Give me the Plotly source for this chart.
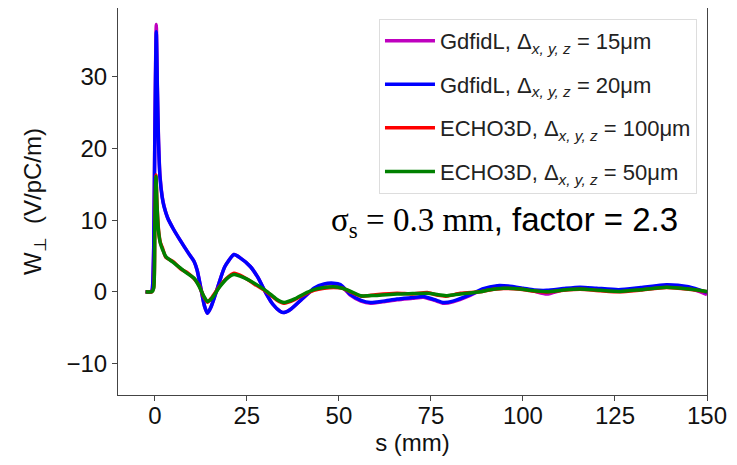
import plotly.graph_objects as go

# GdfidL curves (s in mm, W in V/pC/m)
s_gdfidl = [-2.5, -1.0, -0.7, -0.3, 0.0, 0.4, 0.7, 1.0, 1.4, 2.0, 2.5, 3.5, 5.0, 7.0, 9.0, 10.7,
            11.5, 12.5, 13.5, 14.3, 15.2, 17.0, 19.0, 21.5, 23.0, 26.0, 28.0, 30.0, 32.0, 34.0,
            35.1, 37.0, 40.0, 43.2, 46.0, 48.6, 50.4, 53.2, 56.0, 58.6, 62.0, 65.8, 70.0, 73.0,
            76.0, 78.5, 81.0, 85.7, 89.0, 93.0, 96.0, 100.0, 103.0, 106.5, 111.0, 115.5, 120.0,
            126.0, 132.0, 139.0, 145.0, 150.0]
w_gdfidl_15 = [0.0, 0.0, 0.3, 6.0, 22.0, 37.3, 28.5, 21.3, 16.2, 13.3, 12.0, 10.3, 8.8, 7.1, 5.5, 4.2,
               3.0, 0.5, -2.0, -3.0, -2.2, 0.5, 3.5, 5.2, 4.8, 3.5, 2.0, 0.0, -1.7, -2.7,
               -2.9, -2.4, -1.0, 0.4, 1.0, 1.1, 0.9, -0.5, -1.3, -1.6, -1.4, -1.1, -0.9, -0.75,
               -1.2, -1.6, -1.4, -0.5, 0.3, 0.75, 0.7, 0.4, 0.1, -0.3, 0.3, 0.5, 0.35,
               0.15, 0.45, 0.9, 0.55, -0.4]
w_gdfidl_20 = [0.0, 0.0, 0.3, 6.0, 21.0, 36.3, 28.0, 21.0, 16.0, 13.2, 11.9, 10.3, 8.8, 7.1, 5.5, 4.2,
               3.0, 0.5, -2.0, -3.0, -2.2, 0.5, 3.5, 5.2, 4.8, 3.5, 2.0, 0.0, -1.7, -2.7,
               -2.9, -2.4, -1.0, 0.5, 1.1, 1.2, 1.0, -0.4, -1.2, -1.5, -1.3, -1.0, -0.8, -0.65,
               -1.1, -1.5, -1.3, -0.4, 0.4, 0.85, 0.8, 0.5, 0.25, 0.2, 0.45, 0.65, 0.5,
               0.3, 0.6, 1.0, 0.7, -0.1]

# ECHO3D curves
s_echo = [-2.5, -0.8, -0.3, 0.0, 0.3, 0.6, 1.0, 1.5, 2.1, 3.0, 5.0, 7.0, 9.0, 10.7, 12.0, 13.3,
          14.3, 15.5, 17.5, 19.5, 21.5, 24.0, 27.0, 30.6, 33.0, 35.1, 38.0, 40.5, 43.2, 46.0,
          48.6, 51.0, 53.5, 55.9, 60.0, 65.8, 70.0, 74.0, 77.0, 79.4, 83.0, 88.4, 91.0, 94.7,
          99.3, 102.0, 106.5, 111.0, 115.5, 121.0, 126.4, 132.0, 139.0, 145.0, 150.0]
w_echo_100 = [0.0, 0.0, 0.6, 9.5, 16.3, 12.2, 8.7, 6.9, 6.1, 4.8, 4.2, 3.2, 2.6, 1.8, 0.9, -0.7,
              -1.45, -0.8, 0.7, 1.9, 2.6, 2.1, 1.1, -0.1, -1.1, -1.6, -1.1, -0.4, 0.2, 0.5,
              0.6, 0.5, -0.1, -0.6, -0.4, -0.2, -0.3, -0.1, -0.5, -0.6, -0.2, 0.0, 0.25, 0.45,
              0.35, 0.15, -0.05, 0.2, 0.35, 0.15, 0.0, 0.25, 0.6, 0.35, 0.0]
w_echo_50 = [0.0, 0.0, 0.5, 9.0, 16.1, 12.0, 8.5, 6.8, 5.9, 4.9, 4.1, 3.3, 2.5, 1.9, 0.8, -0.6,
             -1.35, -0.9, 0.6, 1.8, 2.4, 2.0, 1.2, 0.0, -1.0, -1.5, -1.0, -0.3, 0.3, 0.6,
             0.7, 0.5, 0.0, -0.55, -0.5, -0.3, -0.25, -0.2, -0.4, -0.55, -0.3, 0.0, 0.3, 0.5,
             0.4, 0.2, 0.0, 0.25, 0.4, 0.2, 0.05, 0.3, 0.65, 0.4, 0.05]

x_tickvals = [0, 25, 50, 75, 100, 125, 150]
y_tickvals = [-10, 0, 10, 20, 30]
y_ticktext = ["−10", "0", "10", "20", "30"]

sub = "<sub><i>x, y, z</i></sub>"
names = [
    "GdfidL, Δ" + sub + " = 15μm",
    "GdfidL, Δ" + sub + " = 20μm",
    "ECHO3D, Δ" + sub + " = 100μm",
    "ECHO3D, Δ" + sub + " = 50μm",
]
colors = ["#bf00bf", "#0000ff", "#ff0000", "#008000"]
xs = [s_gdfidl, s_gdfidl, s_echo, s_echo]
ys = [w_gdfidl_15, w_gdfidl_20, w_echo_100, w_echo_50]

fig = go.Figure()
for i in range(4):
    fig.add_trace(go.Scatter(x=xs[i], y=ys[i], mode="lines", name=names[i],
                             legendgroup="g%d" % i,
                             line=dict(color=colors[i], width=3.5, shape="spline", smoothing=0.6)))

axis_common = dict(showline=True, linecolor="#444444", linewidth=1, mirror=True,
                   ticks="outside", ticklen=5, tickcolor="#444444", showgrid=False,
                   zeroline=False, tickfont=dict(size=24, color="#111111"))

fig.update_xaxes(range=[-10, 150], tickvals=x_tickvals, ticklabelstandoff=-6,
                 title=dict(text="s (mm)", font=dict(size=24, color="#111111"), standoff=0),
                 **axis_common)
fig.update_yaxes(range=[-14.4, 39.6], tickvals=y_tickvals, ticktext=y_ticktext,
                 title=dict(text="W<sub>⊥</sub>  (V/pC/m)", font=dict(size=24, color="#111111"),
                            standoff=18),
                 **axis_common)

fig.add_annotation(
    x=0.657, y=0.447, xref="paper", yref="paper", showarrow=False,
    text=("<span style=\"font-family:'Liberation Serif', 'Times New Roman', serif\">σ<sub>s</sub> = 0.3 mm</span>"
          ", factor = 2.3"),
    font=dict(size=33, color="#000000", family="Liberation Sans, Arial, sans-serif"),
)

fig.update_layout(
    width=729, height=457,
    margin=dict(l=110, r=30, t=0, b=70, autoexpand=False),
    plot_bgcolor="white", paper_bgcolor="white",
    font=dict(family="Liberation Sans, Arial, sans-serif", color="#222222"),
    legend=dict(x=0.983, y=0.972, xanchor="right", yanchor="top",
                bgcolor="rgba(255,255,255,0.9)", bordercolor="#dddddd", borderwidth=1,
                font=dict(size=22, color="#222222"), tracegroupgap=12, itemwidth=50),
    showlegend=True,
)

fig.write_html("out.html")
